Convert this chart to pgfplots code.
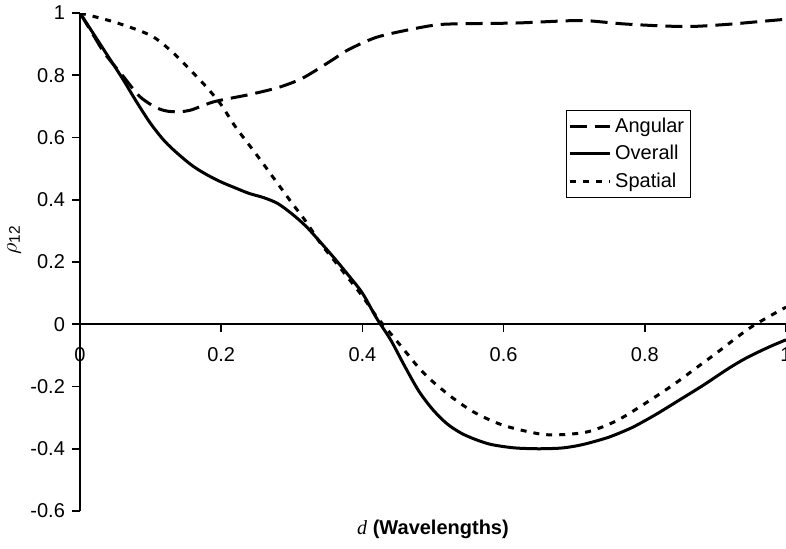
\documentclass[border=0pt]{standalone}
\usepackage{fontspec}
\setmainfont{Liberation Sans}
\newfontfamily\timesfont{Liberation Serif}
\usepackage{pgfplots}
\usepackage{pgfplotstable}
\pgfplotsset{compat=1.18}

% d  rho
\pgfplotstableread{
x y
0 1.000
0.02 0.925
0.035 0.870
0.06 0.800
0.085 0.731
0.11 0.694
0.13 0.683
0.155 0.687
0.19 0.715
0.24 0.738
0.28 0.760
0.31 0.785
0.33 0.810
0.36 0.853
0.38 0.882
0.42 0.922
0.47 0.948
0.51 0.963
0.56 0.966
0.62 0.968
0.69 0.975
0.72 0.975
0.77 0.965
0.83 0.958
0.87 0.957
0.92 0.964
0.96 0.972
1.00 0.980
}\angular

\pgfplotstableread{
x y
0 1.000
0.02 0.93
0.04 0.86
0.06 0.79
0.08 0.715
0.10 0.645
0.12 0.588
0.14 0.545
0.16 0.508
0.18 0.480
0.20 0.457
0.22 0.438
0.24 0.420
0.26 0.407
0.28 0.388
0.30 0.355
0.32 0.315
0.34 0.265
0.36 0.213
0.38 0.158
0.40 0.100
0.42 0.020
0.44 -0.050
0.46 -0.135
0.48 -0.215
0.50 -0.275
0.52 -0.320
0.54 -0.350
0.56 -0.370
0.58 -0.385
0.60 -0.393
0.62 -0.398
0.65 -0.400
0.68 -0.398
0.70 -0.392
0.72 -0.382
0.75 -0.362
0.78 -0.334
0.80 -0.310
0.82 -0.284
0.85 -0.242
0.88 -0.200
0.90 -0.170
0.92 -0.140
0.94 -0.113
0.96 -0.090
0.98 -0.069
1.00 -0.050
}\overall

\pgfplotstableread{
x y
0 1.000
0.05 0.970
0.10 0.928
0.13 0.876
0.16 0.808
0.18 0.760
0.20 0.705
0.22 0.635
0.25 0.545
0.28 0.452
0.30 0.390
0.32 0.330
0.34 0.262
0.36 0.205
0.38 0.148
0.40 0.090
0.42 0.025
0.44 -0.030
0.46 -0.085
0.48 -0.140
0.50 -0.185
0.53 -0.240
0.56 -0.285
0.60 -0.325
0.65 -0.352
0.68 -0.355
0.72 -0.345
0.76 -0.310
0.80 -0.255
0.84 -0.195
0.87 -0.145
0.90 -0.095
0.95 -0.010
1.00 0.055
}\spatial

\begin{document}
\begin{tikzpicture}
\begin{axis}[
    scale only axis,
    width=353pt, height=249pt,
    xmin=0, xmax=1, ymin=-0.6, ymax=1,
    axis x line=middle, axis y line=left,
    axis line style={-, line width=0.8pt},
    xtick={0,0.2,0.4,0.6,0.8,1},
    ytick={-0.6,-0.4,-0.2,0,0.2,0.4,0.6,0.8,1},
    hide obscured x ticks=false, hide obscured y ticks=false,
    tick align=outside, major tick length=4pt,
    tick style={black, line width=0.8pt},
    /pgf/number format/assume math mode=true,
    ticklabel style={font=\fontsize{10}{12}\selectfont},
    xticklabel style={yshift=-4pt},
    xlabel={{\timesfont\itshape d} \textbf{(Wavelengths)}},
    xlabel style={at={(rel axis cs:0.5,0)}, anchor=north, yshift=-1pt, font=\fontsize{10}{12}\selectfont},
    ylabel={$\rho$\textsubscript{12}},
    ylabel style={at={(rel axis cs:0,0.544)}, anchor=center, yshift=33pt, font=\fontsize{11}{13}\selectfont},
    legend style={at={(rel axis cs:0.688,0.805)}, anchor=north west, draw=black, line width=0.6pt,
        font=\fontsize{10}{12}\selectfont, inner xsep=1pt, inner ysep=1.5pt, row sep=1pt},
    legend cell align=left,
    legend image code/.code={\draw[#1] (0cm,0cm) -- (0.7cm,0cm);},
]
\addplot[black, line width=1.5pt, smooth, tension=0.5, dash pattern=on 8.5pt off 4pt] table {\angular};
\addplot[black, line width=1.5pt, smooth, tension=0.5] table {\overall};
\addplot[black, line width=1.5pt, smooth, tension=0.5, dash pattern=on 3pt off 3.5pt] table {\spatial};
\legend{Angular, Overall, Spatial}
\coordinate (axsw) at (rel axis cs:0,0);
\coordinate (axne) at (rel axis cs:1,1);
\end{axis}
\pgfresetboundingbox
\path[use as bounding box] ([shift={(-40pt,-18.5pt)}]axsw) rectangle ([shift={(0pt,6.5pt)}]axne);
\end{tikzpicture}
\end{document}
